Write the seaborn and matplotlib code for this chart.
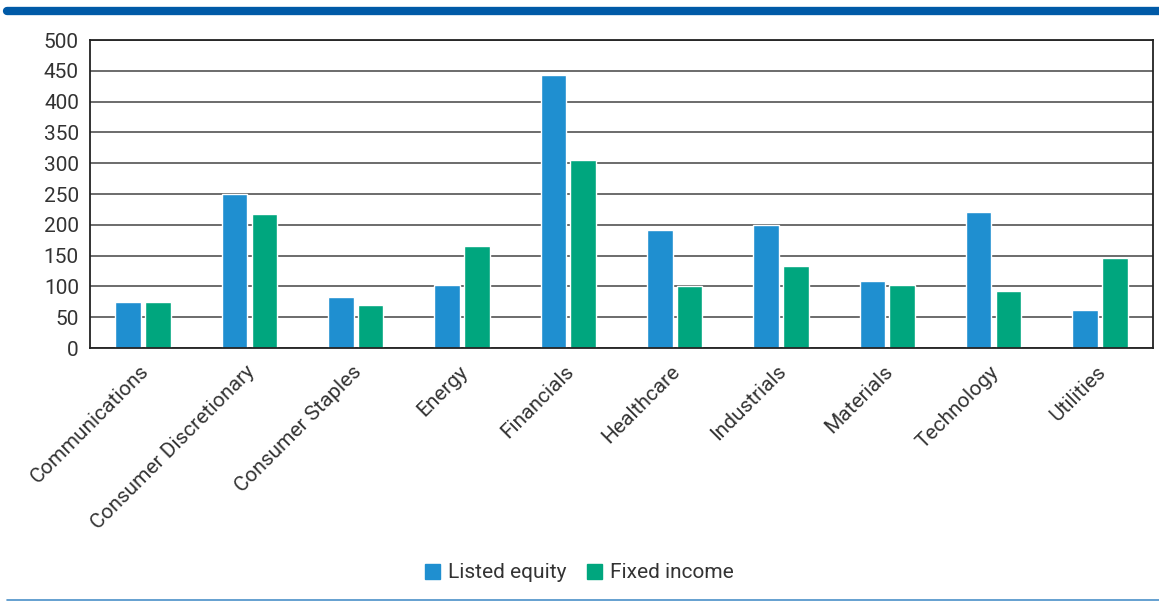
import pandas as pd
import seaborn as sns
import matplotlib
matplotlib.use('Agg')
from matplotlib import pyplot as plt
from matplotlib.lines import Line2D
from matplotlib.transforms import ScaledTranslation

# values
sectors = ['Communications', 'Consumer Discretionary', 'Consumer Staples', 'Energy',
           'Financials', 'Healthcare', 'Industrials', 'Materials', 'Technology', 'Utilities']
listed_equity = [74, 250, 83, 103, 443, 191, 200, 108, 221, 62]
fixed_income = [74, 217, 70, 166, 305, 100, 133, 103, 92, 146]
series_names = ['Listed equity', 'Fixed income']
y_ticks = [0, 50, 100, 150, 200, 250, 300, 350, 400, 450, 500]

df = pd.DataFrame({
    'sector': sectors * 2,
    'value': listed_equity + fixed_income,
    'series': [series_names[0]] * len(sectors) + [series_names[1]] * len(sectors),
})

sns.set_style('white')
plt.rcParams['font.family'] = ['Roboto', 'DejaVu Sans']
text_col = '#333333'
fs = 15

fig = plt.figure(figsize=(11.59, 6.01), dpi=100)
ax = fig.add_axes([90 / 1159, 1 - 348 / 601, (1153 - 90) / 1159, (348 - 40) / 601])

sns.barplot(data=df, x='sector', y='value', hue='series',
            palette=['#1f8fd0', '#00a67e'], width=0.56, gap=0.14,
            saturation=1, ax=ax, legend=False)

ax.set_ylim(0, 500)
ax.set_xlim(-0.5, len(sectors) - 0.5)
ax.set_yticks(y_ticks)
ax.set_yticklabels([str(t) for t in y_ticks], fontsize=fs, color=text_col)
ax.set_xticks(range(len(sectors)))
ax.set_xticklabels(sectors, rotation=45, ha='right', rotation_mode='anchor',
                   fontsize=fs, color=text_col)
ax.tick_params(axis='y', length=0, pad=8)
ax.tick_params(axis='x', length=0, pad=10)
shift = ScaledTranslation(-4 / 100, 0, fig.dpi_scale_trans)
for lbl in ax.get_xticklabels():
    lbl.set_transform(lbl.get_transform() + shift)
ax.set_xlabel('')
ax.set_ylabel('')

ax.yaxis.grid(True, color='#444444', linewidth=1.1)
ax.set_axisbelow(True)
for sp in ax.spines.values():
    sp.set_visible(True)
    sp.set_color('#222222')
    sp.set_linewidth(1.3)

handles = [plt.Rectangle((0, 0), 1, 1, color=c) for c in ['#1f8fd0', '#00a67e']]
fig.legend(handles, series_names, loc='center', bbox_to_anchor=(0.5, 1 - 573 / 601),
           ncol=2, frameon=False, fontsize=fs, handlelength=0.7, handleheight=0.7,
           handletextpad=0.4, columnspacing=1.0, labelcolor=text_col)

# decorative rules at top and bottom
fig.add_artist(Line2D([7 / 1159, 1], [1 - 11 / 601] * 2, color='#005aa7', linewidth=6,
                      transform=fig.transFigure))
fig.add_artist(Line2D([7 / 1159, 1], [1 - 600 / 601] * 2, color='#4a90c8', linewidth=1.2,
                      transform=fig.transFigure))

fig.savefig('out.png', dpi=100)
